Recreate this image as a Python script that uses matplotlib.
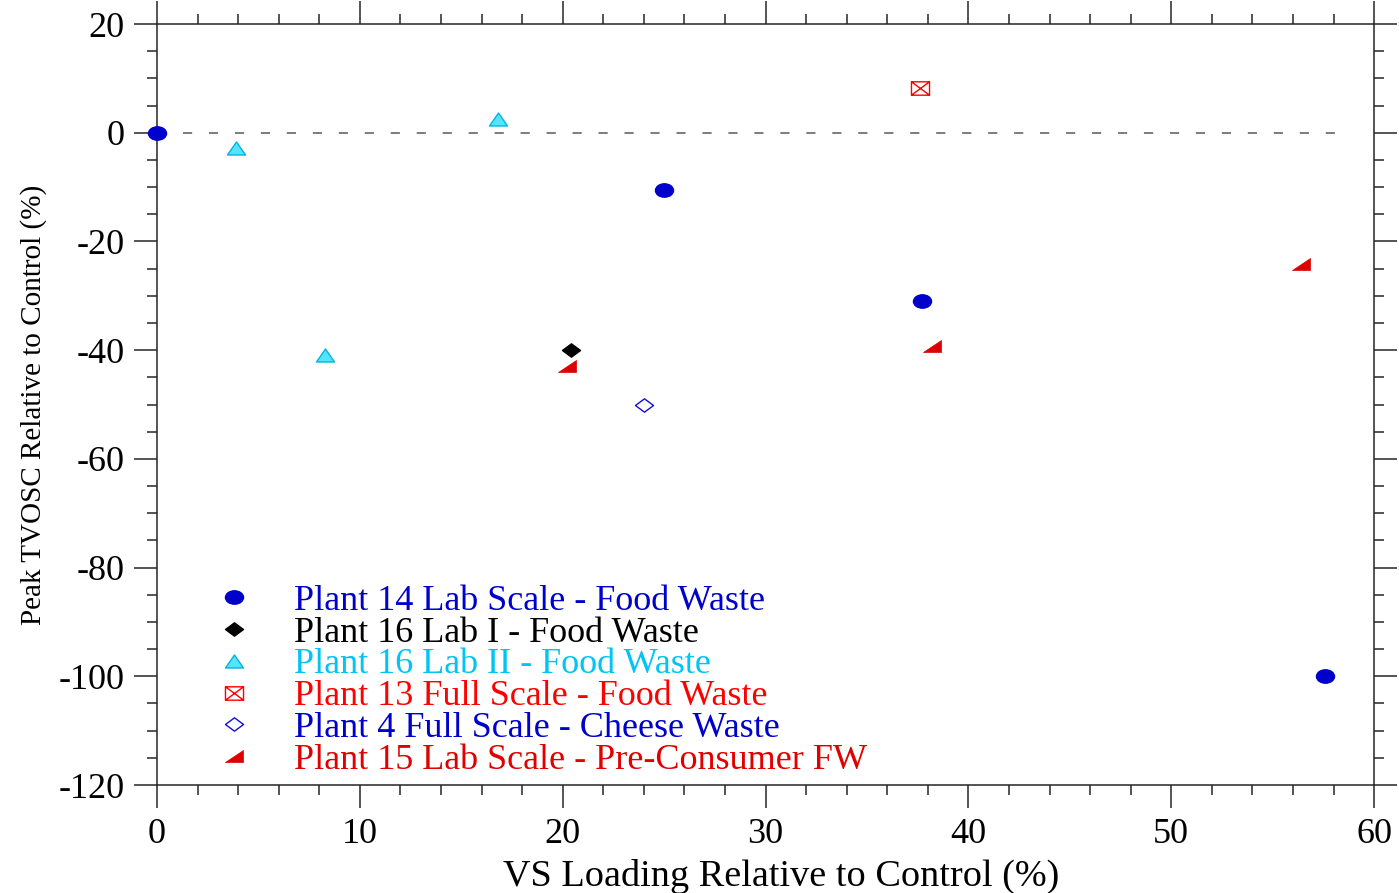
import numpy as np
import matplotlib
matplotlib.use('Agg')
import matplotlib.pyplot as plt
from matplotlib.path import Path
from matplotlib.transforms import Affine2D
from matplotlib.ticker import MultipleLocator

# data
p14_x = [0.0, 25.0, 37.7, 57.6]
p14_y = [0.0, -10.6, -31.0, -100.0]
p16a_x = [20.4]
p16a_y = [-40.0]
p16b_x = [3.9, 16.8, 8.3]
p16b_y = [-2.8, 2.5, -40.9]
p13_x = [37.6]
p13_y = [8.2]
p4_x = [24.0]
p4_y = [-50.0]
p15_x = [20.2, 38.2, 56.4]
p15_y = [-43.0, -39.3, -24.2]

labels = ['Plant 14 Lab Scale - Food Waste',
          'Plant 16 Lab I - Food Waste',
          'Plant 16 Lab II - Food Waste',
          'Plant 13 Full Scale - Food Waste',
          'Plant 4 Full Scale - Cheese Waste',
          'Plant 15 Lab Scale - Pre-Consumer FW']
label_colors = ['#0000CD', 'black', '#00C4F4', '#FF0000', '#0000CD', '#E00000']

plt.rcParams['font.family'] = ['Liberation Serif', 'DejaVu Serif']
plt.rcParams['axes.unicode_minus'] = False

# wide marker shapes
W = 1.35
H = 0.97
ellipse = Affine2D().scale(W, 1).transform_path(Path.unit_circle())
diamond = Path([(-W, 0), (0, 1), (W, 0), (0, -1), (-W, 0)], closed=True)
tri_up = Path([(-W, -H), (W, -H), (0, H), (-W, -H)], closed=True)
tri_right = Path([(-W, -H), (W, -H), (W, H), (-W, -H)], closed=True)
xbox = Path([(-W, -1), (W, -1), (W, 1), (-W, 1), (-W, -1),
             (-W, -1), (W, 1), (-W, 1), (W, -1)],
            [Path.MOVETO, Path.LINETO, Path.LINETO, Path.LINETO, Path.CLOSEPOLY,
             Path.MOVETO, Path.LINETO, Path.MOVETO, Path.LINETO])

fig = plt.figure(figsize=(13.99, 8.93), dpi=100)
ax = fig.add_axes([0.1122, 0.1209, 0.8700, 0.8522])

ax.axhline(0, xmin=0, xmax=0.98, color='0.35', lw=1.1, ls=(0, (6, 11)), zorder=1)

ms = 13
ax.plot(p14_x, p14_y, ls='none', marker=ellipse, ms=ms, mfc='#0000CD', mec='#0000CD',
        label=labels[0], clip_on=False, zorder=3)
ax.plot(p16a_x, p16a_y, ls='none', marker=diamond, ms=ms, mfc='black', mec='black',
        label=labels[1], zorder=3)
ax.plot(p16b_x, p16b_y, ls='none', marker=tri_up, ms=ms, mfc='#55E4FF', mec='#00B4E4',
        mew=1, label=labels[2], zorder=3)
ax.plot(p13_x, p13_y, ls='none', marker=xbox, ms=ms, mfc='none', mec='#FF0000',
        mew=1, label=labels[3], zorder=3)
ax.plot(p4_x, p4_y, ls='none', marker=diamond, ms=ms, mfc='none', mec='#1010E0',
        mew=1, label=labels[4], zorder=3)
ax.plot(p15_x, p15_y, ls='none', marker=tri_right, ms=ms, mfc='#DD0000', mec='#DD0000',
        mew=0.5, label=labels[5], zorder=3)

ax.set_xlim(0, 60)
ax.set_ylim(-120, 20)
ax.xaxis.set_major_locator(MultipleLocator(10))
ax.xaxis.set_minor_locator(MultipleLocator(2))
ax.yaxis.set_major_locator(MultipleLocator(20))
ax.yaxis.set_minor_locator(MultipleLocator(5))
ax.tick_params(which='both', direction='out', top=True, right=True, width=1.1, color='0.15')
ax.tick_params(which='major', length=16.5, labelsize=26, pad=7)
ax.tick_params(which='minor', length=7)
for s in ax.spines.values():
    s.set_linewidth(1.1)
    s.set_color('0.15')

ax.set_xlabel('VS Loading Relative to Control (%)', fontsize=27.5)
ax.xaxis.set_label_coords(0.5127, -0.097)
ax.set_ylabel('Peak TVOSC Relative to Control (%)', fontsize=21, labelpad=8)

leg = ax.legend(loc='upper left', bbox_to_anchor=(0.0511, 0.2636), frameon=False,
                fontsize=26, borderpad=0, borderaxespad=0, handlelength=0.8,
                handletextpad=1.26, labelspacing=-0.04, labelcolor=label_colors)

fig.savefig('out.png', dpi=100)
